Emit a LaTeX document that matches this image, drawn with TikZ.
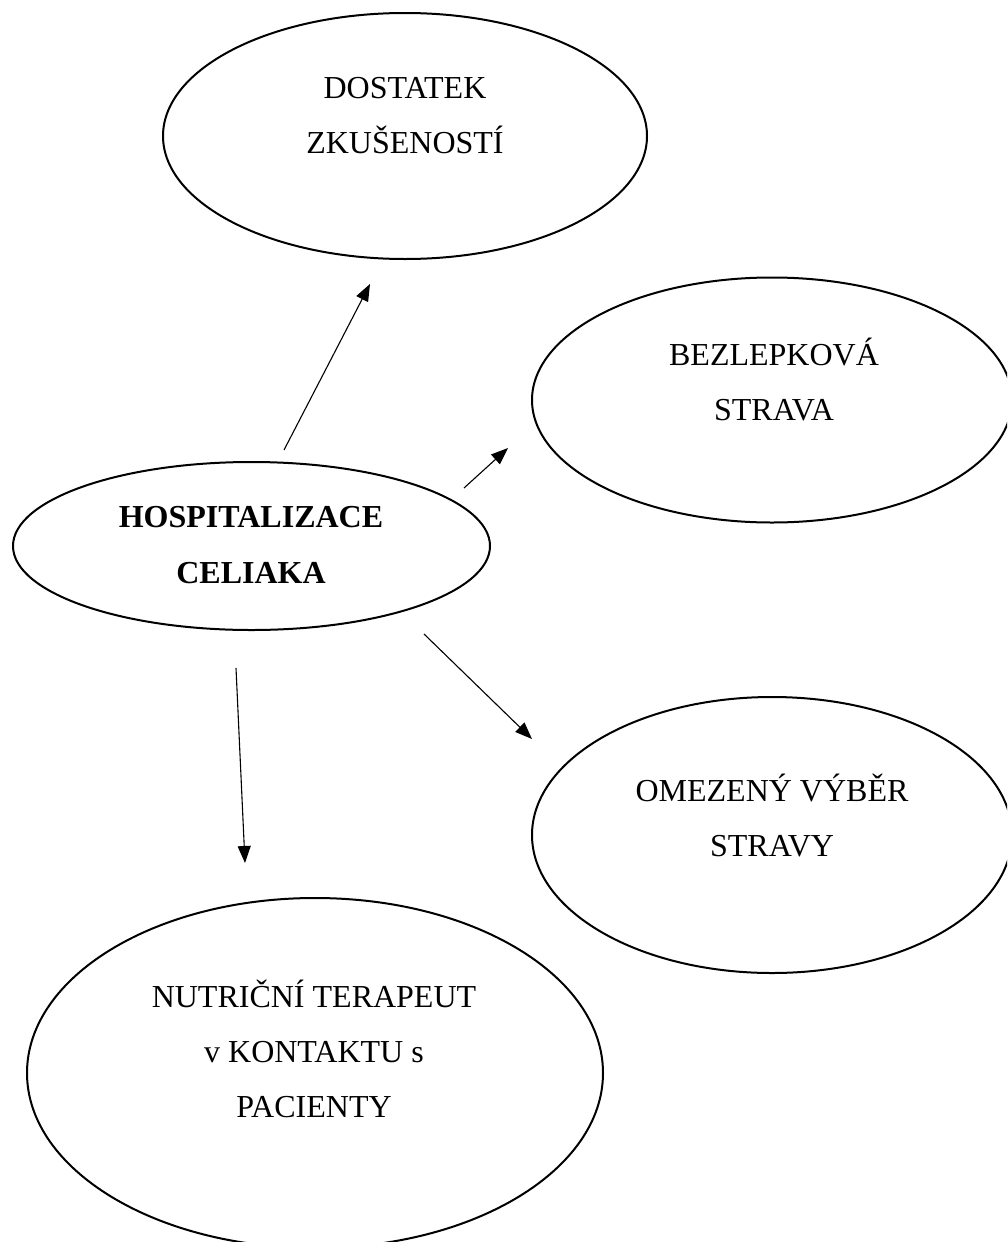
\documentclass[tikz,border=0pt]{standalone}
\usepackage{fontspec}
\setmainfont{Liberation Serif}
\usetikzlibrary{arrows.meta,shapes.geometric}
\begin{document}
\begin{tikzpicture}[x=1pt,y=-1pt,
  bubble/.style={draw, ellipse, line width=2pt, inner sep=0pt},
  lbl/.style={align=center, inner sep=0pt, font=\fontsize{32}{55}\selectfont},
  boldlbl/.style={lbl, font=\fontsize{32}{56}\selectfont\bfseries},
  arr/.style={line width=1.1pt, -{Triangle[length=17pt,width=13pt]}}]
\useasboundingbox (0,0) rectangle (1007,1242);
\clip (0,0) rectangle (1007,1242);
\fill[white] (0,0) rectangle (1007,1242);
% ellipses
\node[bubble, minimum width=484pt, minimum height=246pt] (dost) at (405,136) {};
\node[bubble, minimum width=480pt, minimum height=245pt] (bez) at (772,400) {};
\node[bubble, minimum width=477pt, minimum height=168pt] (hosp) at (251.5,546) {};
\node[bubble, minimum width=480pt, minimum height=276pt] (omez) at (772,835) {};
\node[bubble, minimum width=576pt, minimum height=350pt] (nutr) at (315,1073) {};
% labels
\node[lbl] (tdost) at (405,115.5) {DOSTATEK\\ZKUŠENOSTÍ};
\node[lbl] (tbez) at (774,379.5) {BEZLEPKOVÁ\\STRAVA};
\node[boldlbl] (thosp) at (251,545) {HOSPITALIZACE\\CELIAKA};
\node[lbl] (tomez) at (772,815.5) {OMEZENÝ VÝBĚR\\STRAVY};
\node[lbl] (tnutr) at (314,1049) {NUTRIČNÍ TERAPEUT\\v KONTAKTU s\\PACIENTY};
% arrow end points
\coordinate (h2d) at (284,450);
\coordinate (d-in) at (370,284);
\coordinate (h2b) at (464,488);
\coordinate (b-in) at (508,448);
\coordinate (h2o) at (424,634);
\coordinate (o-in) at (532,739);
\coordinate (h2n) at (236,668);
\coordinate (n-in) at (245,863);
% connectors
\draw[arr] (h2d) -- (d-in);
\draw[arr] (h2b) -- (b-in);
\draw[arr] (h2o) -- (o-in);
\draw[arr] (h2n) -- (n-in);
\end{tikzpicture}
\end{document}
